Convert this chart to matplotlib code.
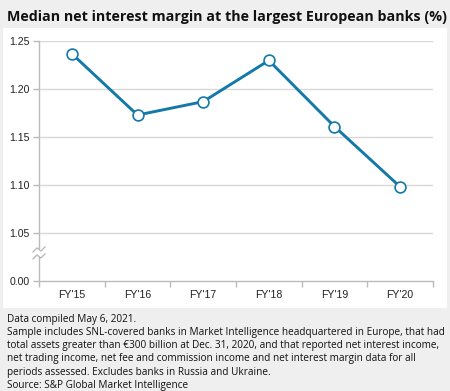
import matplotlib
matplotlib.use("Agg")
import matplotlib.pyplot as plt
from matplotlib.patches import Rectangle
from matplotlib.lines import Line2D
import matplotlib.transforms as mtransforms

categories = ["FY'15", "FY'16", "FY'17", "FY'18", "FY'19", "FY'20"]
values = [1.237, 1.173, 1.187, 1.230, 1.161, 1.098]
ytick_values = [1.00, 1.05, 1.10, 1.15, 1.20, 1.25]
ytick_labels = ["0.00", "1.05", "1.10", "1.15", "1.20", "1.25"]

title = "Median net interest margin at the largest European banks (%)"
footnote = ("Data compiled May 6, 2021.\n"
            "Sample includes SNL-covered banks in Market Intelligence headquartered in Europe, that had\n"
            "total assets greater than \u20ac300 billion at Dec. 31, 2020, and that reported net interest income,\n"
            "net trading income, net fee and commission income and net interest margin data for all\n"
            "periods assessed. Excludes banks in Russia and Ukraine.\n"
            "Source: S&P Global Market Intelligence")

W, H = 450, 391
fig = plt.figure(figsize=(W/100, H/100), dpi=100)
fig.patch.set_facecolor("#efefef")

# white panel
fig.patches.append(Rectangle((3/W, 1-308/H), 444/W, 280/H, transform=fig.transFigure,
                             facecolor="white", edgecolor="none", zorder=-10))

fig.text(7/W, 1-17/H, title, fontsize=10.3, fontweight="bold", family="Open Sans",
         va="center", ha="left", color="#111111")
fig.text(7/W, 1-314/H, footnote, fontsize=7.2, family="Open Sans", va="top", ha="left",
         color="#111111", linespacing=1.27)

ax = fig.add_axes([39/W, 1-280.7/H, 394/W, 239.4/H])
ax.set_facecolor("none")
ax.set_zorder(1)
x = list(range(len(categories)))
ax.plot(x, values, color="#1279a9", lw=2.1, marker="o", markersize=7.8,
        markerfacecolor="white", markeredgecolor="#1279a9", markeredgewidth=1.2, zorder=5,
        clip_on=False)

ax.set_xlim(-0.5, len(categories)-0.5)
ax.set_ylim(1.0, 1.25)
ax.set_yticks(ytick_values)
ax.set_yticklabels(ytick_labels)
ax.set_xticks(x)
ax.set_xticklabels(categories)
ax.set_xticks([i+0.5 for i in range(-1, len(categories))], minor=True)
ax.tick_params(axis="x", which="major", length=0, pad=7, labelsize=7.6, labelcolor="#222222")
ax.tick_params(axis="x", which="minor", length=4, color="#bbbbbb", width=1)
ax.tick_params(axis="y", length=4, color="#bbbbbb", width=1, pad=3, labelsize=7.6, labelcolor="#222222")
for lab in ax.get_xticklabels() + ax.get_yticklabels():
    lab.set_family("Liberation Sans")

for v in ytick_values[1:]:
    ax.axhline(v, color="#d9d9d9", lw=1, zorder=1)

for s in ["top", "right"]:
    ax.spines[s].set_visible(False)
for s in ["left", "bottom"]:
    ax.spines[s].set_color("#bbbbbb")
    ax.spines[s].set_linewidth(1)

# axis break marker
trans = mtransforms.blended_transform_factory(ax.transAxes, ax.transData)
ybreak = 1.029
gap = Rectangle((-4/394, ybreak - 0.004), 8/394, 0.008, transform=trans,
                facecolor="white", edgecolor="none", zorder=6, clip_on=False)
ax.add_patch(gap)
for dy in (3.5, -3.5):
    xs = [-6, -2, 2, 6]
    ys = [dy - 2.5, dy + 1.5, dy - 1.5, dy + 2.5]
    ln = Line2D([xx/394 for xx in xs], [ybreak + yy*0.05/48 for yy in ys], transform=trans,
                color="#b5b5b5", lw=0.9, clip_on=False, zorder=7)
    ax.add_line(ln)

fig.savefig("out.png", dpi=100, facecolor=fig.get_facecolor())
